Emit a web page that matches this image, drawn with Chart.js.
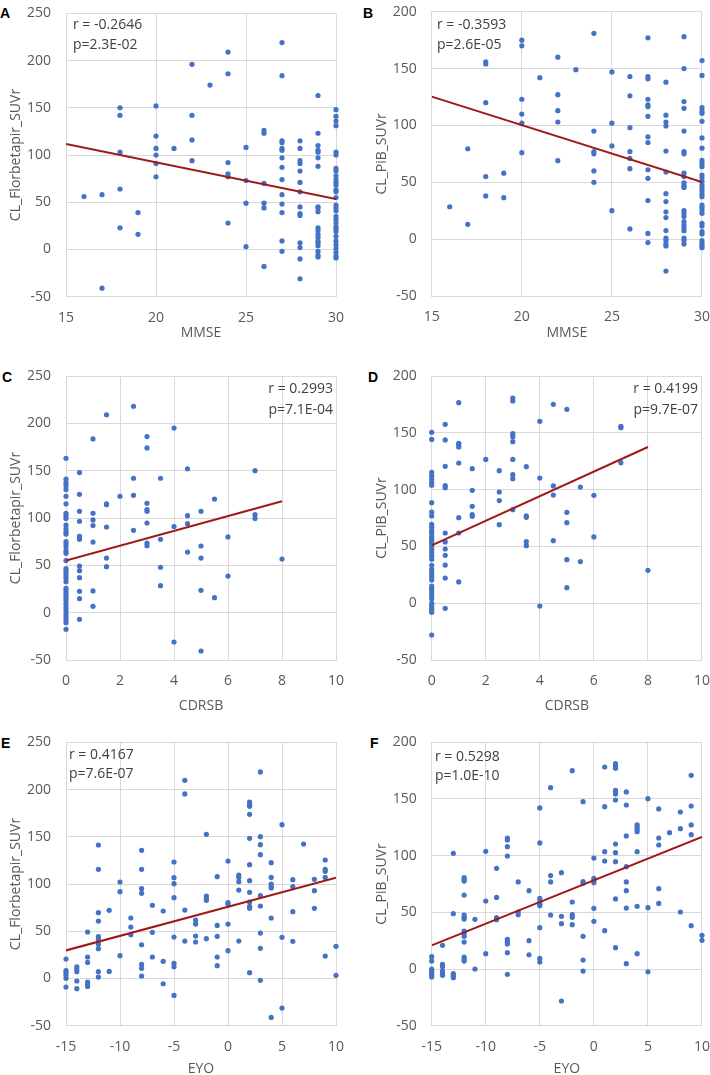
<!DOCTYPE html>
<html>
<head>
<meta charset="utf-8">
<script src="https://cdn.jsdelivr.net/npm/chart.js@4.4.0/dist/chart.umd.min.js"></script>
<style>
  body { margin: 0; background: #fff; width: 710px; height: 1075px; position: relative; overflow: hidden; }
  .panel { position: absolute; }
  .tag { position: absolute; font: bold 14px Arial, "Liberation Sans", sans-serif; line-height: 14px; color: #000; }
</style>
</head>
<body>
<div class="tag" style="left:0px;top:6px">A</div>
<div class="tag" style="left:363px;top:6px">B</div>
<div class="tag" style="left:2px;top:370px">C</div>
<div class="tag" style="left:368px;top:370px">D</div>
<div class="tag" style="left:1px;top:736px">E</div>
<div class="tag" style="left:370px;top:736px">F</div>

<div class="panel" style="left:0;top:0"><canvas id="pA" width="355" height="341"></canvas></div>
<div class="panel" style="left:355px;top:0"><canvas id="pB" width="358" height="341"></canvas></div>
<div class="panel" style="left:0;top:341px"><canvas id="pC" width="355" height="373"></canvas></div>
<div class="panel" style="left:355px;top:341px"><canvas id="pD" width="358" height="373"></canvas></div>
<div class="panel" style="left:0;top:714px"><canvas id="pE" width="355" height="363"></canvas></div>
<div class="panel" style="left:355px;top:714px"><canvas id="pF" width="358" height="363"></canvas></div>

<script>
// x columns
const mmse = [16, 17, 18, 19, 20, 21, 22, 23, 24, 25, 26, 27, 28, 29, 30];
const cdrsb = [0, 0.5, 1, 1.5, 2, 2.5, 3, 3.5, 4, 4.5, 5, 5.5, 6, 7, 8];
const eyo = [-15, -14, -13, -12, -11, -10, -9, -8, -7, -6, -5, -4, -3, -2, -1, 0, 1, 2, 3, 4, 5, 6, 7, 8, 9, 10];

// centiloid values, one list per x column
const florMmse = [
  [56],
  [58, -41],
  [150, 142, 103, 64, 23],
  [39, 16],
  [152, 120, 107, 100, 91, 77],
  [107],
  [196, 142, 116, 94],
  [174],
  [209, 186, 92, 80, 77, 28],
  [108, 73, 49, 3],
  [126, 123, 70, 49, 44, -18],
  [219, 184, 115, 113, 107, 105, 97, 87, 74, 58, 48, 39, 9, -2],
  [115, 107, 94, 91, 83, 71, 61, 45, 38, 36, 7, 2, -10, -31],
  [163, 123, 110, 105, 103, 97, 88, 45, 44, 40, 23, 20, 16, 13, 9, 7, 4, -2, -6, -8],
  [148, 141, 136, 131, 103, 100, 86, 83, 78, 74, 71, 68, 63, 61, 55, 47, 44, 41, 35, 32, 28, 24, 22, 19, 14, 9, 5, 1, -3, -7, -9]
];
const pibMmse = [
  [28.5],
  [79.5, 13],
  [156, 154, 120, 55, 38],
  [58, 36.5],
  [175, 170, 123, 110, 102, 76],
  [142],
  [160, 127, 113, 103, 69],
  [149],
  [181, 95, 77, 75, 60, 50],
  [147, 102, 82, 25],
  [143, 126, 98, 77, 71, 62, 9],
  [177, 143, 141, 123, 118, 116.5, 108, 90, 85, 61, 53.5, 34, 5, -3],
  [138, 109, 103, 99.5, 77.5, 59, 40, 33, 24, 19, 7.5, 1, -1, -4, -6, -28],
  [178, 150, 121, 115, 95, 77, 75, 58, 55, 49.6, 47, 45.5, 25, 22.7, 20, 15.4, 12.4, 10, 7.4, 1, -1.3, -4.3],
  [157, 144, 115.6, 112.7, 110.6, 103.6, 89, 80, 69.3, 66.6, 63.7, 56.4, 54, 50.5, 47.6, 44.7, 42.3, 39.7, 37.3, 30, 28, 25.6, 22.7, 13.9, 11.5, 6.6, 4.5, -1.3, -3.7, -6, -7.5]
];
const florCdr = [
  [163, 141, 137, 134, 130, 123, 115, 105, 102.5, 99.6, 92.6, 88.7, 85.6, 83, 75, 72.5, 69.7, 65.5, 62.7, 55, 46.5, 44.4, 41.6, 38.7, 36, 32.7, 25.7, 23.2, 20.4, 17.6, 15.1, 12.3, 8.8, 5.3, 2.1, -1.4, -4.2, -7.7, -10.6, -17.6],
  [148, 125, 107, 96.5, 80.6, 77.5, 49.3, 44.4, 37, 22.5, 14.8, -7],
  [183.5, 105, 98, 92, 74.6, 23, 6.7],
  [209, 115, 114, 90.5, 57.7, 48.6],
  [123],
  [218, 142, 124, 87],
  [186, 174, 115.5, 109, 107, 94.7, 73.6, 70.8],
  [142, 77.5, 48, 28.5],
  [195, 91, -31],
  [152, 102.5, 94, 64],
  [107, 70.4, 57.7, 23.6, -40.5],
  [120, 15.8],
  [80, 38.7],
  [150, 103.5, 99.6],
  [56.7]
];
const pibCdr = [
  [150.4, 144.2, 115.2, 112, 109, 106, 103.8, 88.5, 80.3, 76.8, 69.4, 66.8, 63.8, 61.5, 58.6, 56.2, 54.2, 52.1, 49.8, 47.4, 44.5, 41.5, 38.6, 33.3, 29.8, 27.8, 25.4, 22.8, 20.4, 15.1, 13.1, 11, 8.7, 6.3, 4, -0.1, -2.2, -4.5, -6.6, -8, -28],
  [157.5, 143.7, 120.5, 103.5, 101.7, 61.8, 53.9, 47.7, 42.1, 33.6, 22.2, -4.5],
  [176.5, 140.7, 139.3, 137.5, 123.4, 75.3, 61.8, 18.7],
  [118.4, 99.4, 85.3, 78, 76.5],
  [126.6],
  [116.7, 97.9, 90.3, 69.1],
  [180.6, 178, 149.2, 146.6, 142.2, 126.6, 113.1, 109.6, 82.3],
  [120.2, 77, 75.6, 54.2, 50.6],
  [160.1, 110.2, -2.5],
  [175.1, 103.2, 95.2, 55],
  [170.7, 80, 70.9, 38.3, 13.7],
  [102.3, 36.6],
  [95, 58.3],
  [155.7, 154.5, 123.7],
  [28.9]
];
const florEyo = [
  [20.6, 8.2, 6.1, 3.6, 0.1, -9.1],
  [12.4, 10, 7.2, -2.7, -10.8],
  [49.2, 22.7, 17, -3.8, -5.9, -8.4],
  [141.3, 115.5, 69.6, 60.8, 44.2, 41.7, 39.6, 36.1, 31.5, 7.2, 1.5],
  [72.1, 7.5],
  [102.1, 91.9, 24.1],
  [64, 54.4, 46.3],
  [135.6, 115.5, 95, 90.1, 35.7, 14.9, 10.7, 2.6],
  [77.4, 48.8, 22.7],
  [71.4, 18.1, -5.6],
  [123.3, 106.7, 100.3, 85.5, 43.9, 16, 12.4, -17.9],
  [209.8, 195.3, 72.4, 39.6],
  [61.9, 57.6, 44.9, 38.6],
  [152.6, 87.3, 84.5, 82.7, 42.1],
  [107.8, 56.2, 44.6, 22.7, 13.5],
  [124.3, 80.2, 78.8, 57.6, 29.4],
  [109.5, 107, 102.5, 93.6, 39.6],
  [186.8, 184.3, 182.2, 173.8, 148.3, 120.5, 103.5, 91.2, 80.9, 76.3, 74.2, 6.1],
  [218.6, 150.1, 141.6, 131, 87.6, 76.7, 48.1, 31.9, -2],
  [122.6, 107, 100, 97.5, 95.8, 64, -41.2],
  [162.8, 43.5, -31.3],
  [104.6, 97.2, 70.7, 39.3],
  [142.3],
  [104.9, 92.9, 74.2],
  [125.4, 115.5, 113.4, 107, 23.7],
  [34, 3.3]
];
const pibEyo = [
  [10.9, 7, 0, -1.8, -3.5, -5.3, -7],
  [20.9, 4.1, 2.1, -1.8, -4.1, -5.6],
  [102.1, 48.8, -4.1, -5.9, -7.6],
  [80.6, 79.1, 77.6, 65.3, 47.6, 45.6, 44.1, 33.5, 31.5, 28.8, 23.8, 10.6, 8.5, 7],
  [43.8, 0],
  [103.8, 60, 13.5],
  [88.8, 63.2, 45.3, 43.5],
  [115.6, 113.8, 107.9, 99.7, 26.2, 24.1, 22.1, 14.4, -4.7],
  [76.8, 50.3, 47.9],
  [69.1, 25, 12.6],
  [142.1, 111.2, 62.4, 60, 57.4, 55.9, 36.5, 9.4, 6.2],
  [160, 82.4, 76.8, 47.6],
  [85, 46.5, 40, -28.2],
  [175, 59.1, 47.9, 45.6, 39.1],
  [147.6, 77.1, 75.6, 28.8, 7.9, -1.8],
  [97.9, 80, 78.2, 76.2, 53.5, 42.1],
  [178.2, 143.2, 103.5, 95.3, 33.8],
  [181.2, 179.1, 177.1, 157.6, 156.2, 154.4, 149.1, 110.3, 102.6, 94.7, 61.8, 18.8],
  [156.2, 144.7, 117.4, 90.3, 76.8, 69.1, 53.8, 4.7],
  [127.1, 125.3, 123.2, 121.2, 103.5, 55.3, 13.5],
  [150.3, 54.1, -2.4],
  [141.2, 115.6, 109.4, 70.9, 57.9],
  [120.3],
  [138.5, 123.8, 50.3],
  [170.9, 143.8, 127.1, 118.5, 38.2],
  [29.7, 25.3]
];

// linear fits: value at start and end of each fitted range
const fitA = [111.6, 53.4];
const fitB = [125.3, 50.2];
const fitC = [55, 117.6];
const fitD = [50.9, 137.5];
const fitE = [29.7, 106.7];
const fitF = [20.9, 116.5];

const statsA = ['r = -0.2646', 'p=2.3E-02'];
const statsB = ['r = -0.3593', 'p=2.6E-05'];
const statsC = ['r = 0.2993', 'p=7.1E-04'];
const statsD = ['r = 0.4199', 'p=9.7E-07'];
const statsE = ['r = 0.4167', 'p=7.6E-07'];
const statsF = ['r = 0.5298', 'p=1.0E-10'];

const FONT = '"Open Sans"';
const GREY = '#595959';
const GRID = '#d9d9d9';

function toPoints(xs, ys) {
  const out = [];
  xs.forEach((x, i) => ys[i].forEach(y => out.push({x: x, y: y})));
  return out;
}

const statsPlugin = {
  id: 'stats',
  afterDraw(chart, args, o) {
    const ctx = chart.ctx;
    ctx.save();
    ctx.font = '14px ' + FONT;
    ctx.fillStyle = '#404040';
    ctx.textBaseline = 'middle';
    ctx.textAlign = o.align;
    o.lines.forEach((t, i) => ctx.fillText(t, o.x, o.y[i]));
    ctx.restore();
  }
};

function panel(id, p) {
  new Chart(document.getElementById(id), {
    type: 'scatter',
    data: {
      datasets: [
        {
          data: [{x: p.fitX[0], y: p.fit[0]}, {x: p.fitX[1], y: p.fit[1]}],
          showLine: true,
          borderColor: '#a01818',
          borderWidth: 2,
          pointRadius: 0,
          order: 0
        },
        {
          data: toPoints(p.xs, p.ys),
          backgroundColor: '#4472c4',
          borderWidth: 0,
          pointRadius: 2.6,
          clip: false,
          order: 1
        }
      ]
    },
    options: {
      responsive: false,
      animation: false,
      events: [],
      layout: {padding: {top: p.top, right: p.right, left: 0, bottom: 0}},
      plugins: {
        legend: {display: false},
        tooltip: {enabled: false},
        stats: p.stats
      },
      scales: {
        x: {
          type: 'linear',
          min: p.xr[0], max: p.xr[1],
          ticks: {stepSize: p.xr[2], padding: 3, color: GREY, font: {family: FONT, size: 14}},
          grid: {color: GRID, tickLength: 10, tickColor: 'rgba(0,0,0,0)'},
          border: {color: GRID},
          title: {display: true, text: p.xTitle, color: GREY, font: {family: FONT, size: 14}, padding: 0},
          afterFit: s => { s.height = p.xh; }
        },
        y: {
          min: -50, max: p.ymax,
          ticks: {stepSize: 50, padding: 3, color: GREY, font: {family: FONT, size: 14}},
          grid: {color: GRID, tickLength: 12, tickColor: 'rgba(0,0,0,0)'},
          border: {color: GRID},
          title: {display: true, text: p.yTitle, color: GREY, font: {family: FONT, size: 14}, padding: {top: p.yPad, bottom: 0}},
          afterFit: s => { s.width = p.yw; }
        }
      }
    },
    plugins: [statsPlugin]
  });
}

const col1 = {right: 19, yw: 66, yPad: 8};
const col2 = {right: 11, yw: 76.7, yPad: 19};

panel('pA', Object.assign({}, col1, {
  xs: mmse, ys: florMmse, fit: fitA, fitX: [15, 30], xr: [15, 30, 5], ymax: 250,
  top: 13.3, xh: 44.3, xTitle: 'MMSE', yTitle: 'CL_Florbetapir_SUVr',
  stats: {lines: statsA, align: 'left', x: 73, y: [25, 45]}
}));
panel('pB', Object.assign({}, col2, {
  xs: mmse, ys: pibMmse, fit: fitB, fitX: [15, 30], xr: [15, 30, 5], ymax: 200,
  top: 11.7, xh: 45, xTitle: 'MMSE', yTitle: 'CL_PiB_SUVr',
  stats: {lines: statsB, align: 'left', x: 82, y: [25, 45]}
}));
panel('pC', Object.assign({}, col1, {
  xs: cdrsb, ys: florCdr, fit: fitC, fitX: [0, 8], xr: [0, 10, 2], ymax: 250,
  top: 35, xh: 54, xTitle: 'CDRSB', yTitle: 'CL_Florbetapir_SUVr',
  stats: {lines: statsC, align: 'right', x: 333, y: [48, 69]}
}));
panel('pD', Object.assign({}, col2, {
  xs: cdrsb, ys: pibCdr, fit: fitD, fitX: [0, 8], xr: [0, 10, 2], ymax: 200,
  top: 35, xh: 54, xTitle: 'CDRSB', yTitle: 'CL_PiB_SUVr',
  stats: {lines: statsD, align: 'right', x: 343, y: [48, 69]}
}));
panel('pE', Object.assign({}, col1, {
  xs: eyo, ys: florEyo, fit: fitE, fitX: [-15, 10], xr: [-15, 10, 5], ymax: 250,
  top: 28.3, xh: 51.3, xTitle: 'EYO', yTitle: 'CL_Florbetapir_SUVr',
  stats: {lines: statsE, align: 'left', x: 69, y: [41, 60]}
}));
panel('pF', Object.assign({}, col2, {
  xs: eyo, ys: pibEyo, fit: fitF, fitX: [-15, 10], xr: [-15, 10, 5], ymax: 200,
  top: 28.3, xh: 51.3, xTitle: 'EYO', yTitle: 'CL_PiB_SUVr',
  stats: {lines: statsF, align: 'left', x: 80, y: [43, 62]}
}));
</script>
</body>
</html>
